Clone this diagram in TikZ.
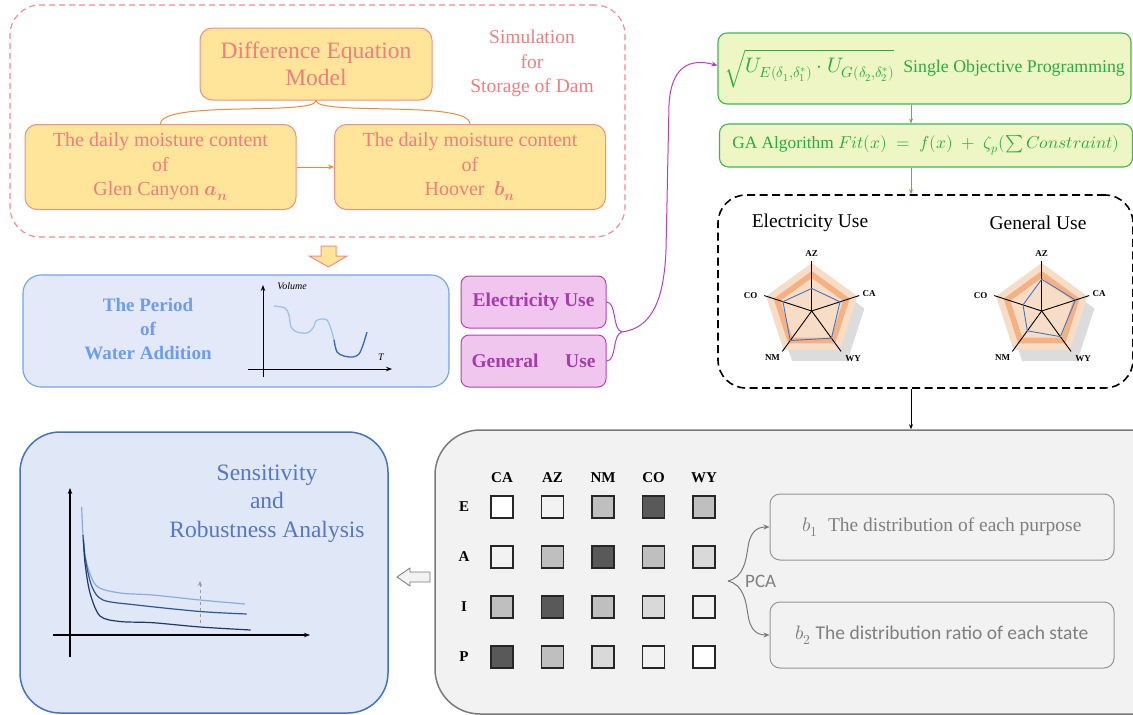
\documentclass[tikz,border=0pt]{standalone}
\usepackage{fontspec}
\usepackage{unicode-math}
\setmainfont{Liberation Serif}
\setmathfont{Latin Modern Math}
\newfontfamily\calibri{Carlito}
\usetikzlibrary{arrows.meta,positioning}

\definecolor{simred}{HTML}{F4858C}
\definecolor{ortxt}{HTML}{EF7E7E}
\definecolor{oredge}{HTML}{F29080}
\definecolor{orfill}{HTML}{FFE599}
\definecolor{orline}{HTML}{EE8A3C}
\definecolor{pdedge}{HTML}{6FA3F2}
\definecolor{pdfill}{HTML}{E3E9F8}
\definecolor{pdtxt}{HTML}{6C9DF0}
\definecolor{pdlight}{HTML}{9DC3E6}
\definecolor{pddark}{HTML}{3A66C0}
\definecolor{puedge}{HTML}{B541B5}
\definecolor{pufill}{HTML}{F0C6EE}
\definecolor{putxt}{HTML}{A63CAA}
\definecolor{gredge}{HTML}{3CB94C}
\definecolor{grfill}{HTML}{EEF6C6}
\definecolor{grtxt}{HTML}{27AE3C}
\definecolor{grline}{HTML}{70AD47}
\definecolor{snedge}{HTML}{4472C4}
\definecolor{snfill}{HTML}{E0E7F6}
\definecolor{sntxt}{HTML}{5677C4}
\definecolor{snlight}{HTML}{8FAADC}
\definecolor{snmid}{HTML}{2F5597}
\definecolor{sndark}{HTML}{203864}
\definecolor{gyfill}{HTML}{F2F2F2}
\definecolor{gyedge}{HTML}{7A7A7A}
\definecolor{gytxt}{HTML}{7F7F7F}
\definecolor{rdout}{HTML}{F8DDC6}
\definecolor{rdband}{HTML}{F4B183}
\definecolor{rdshadow}{HTML}{DCDCDC}
\definecolor{rdblue}{HTML}{4472C4}
\definecolor{shA}{HTML}{FFFFFF}
\definecolor{shB}{HTML}{F2F2F2}
\definecolor{shC}{HTML}{D9D9D9}
\definecolor{shD}{HTML}{BFBFBF}
\definecolor{shE}{HTML}{595959}

\tikzset{
  simframe/.style={draw=simred, dash pattern=on 6pt off 4pt, line width=1.1pt,
    rounded corners=30pt, minimum width=615pt, minimum height=232pt},
  orbox/.style={draw=oredge, fill=orfill, line width=1pt, rounded corners=12pt,
    text=ortxt, align=center, inner sep=0pt, minimum width=271pt, minimum height=85pt,
    font=\rmfamily\fontsize{20}{24.5}\selectfont},
  simtext/.style={text=ortxt, align=center, font=\rmfamily\fontsize{19.5}{24.5}\selectfont},
  orline/.style={draw=orline, line width=1pt},
  orarrow/.style={orline, -{Stealth[length=6pt,width=5pt]}},
  pdbox/.style={draw=pdedge, fill=pdfill, line width=1.1pt, rounded corners=18pt,
    minimum width=426pt, minimum height=112pt},
  pdtext/.style={text=pdtxt, align=center, font=\rmfamily\bfseries\fontsize{19}{24}\selectfont},
  pubox/.style={draw=puedge, fill=pufill, line width=1pt, rounded corners=8pt,
    minimum width=145pt, minimum height=52pt, text=putxt, inner sep=0pt,
    font=\rmfamily\bfseries\fontsize{19.5}{22}\selectfont},
  puline/.style={draw=puedge, line width=1pt},
  grbox/.style={draw=gredge, fill=grfill, line width=1.1pt, rounded corners=9pt,
    minimum width=413pt, text=grtxt, inner sep=0pt, font=\rmfamily\fontsize{17.8}{22}\selectfont},
  grarrow/.style={draw=grline, line width=1pt, -{Stealth[length=5pt,width=4pt]}},
  usebox/.style={draw=black, dash pattern=on 8pt off 4.5pt, line width=1.6pt,
    rounded corners=28pt, minimum width=415pt, minimum height=193pt},
  usetitle/.style={font=\rmfamily\fontsize{19.5}{22}\selectfont},
  rdaxis/.style={draw=black, line width=0.9pt},
  rdvalue/.style={draw=rdblue, line width=0.9pt},
  rdlabel/.style={font=\rmfamily\bfseries\fontsize{9}{10}\selectfont, inner sep=0pt},
  blkarrow/.style={draw=black, line width=0.9pt, -{Stealth[length=5pt,width=4pt]}},
  gybox/.style={draw=gyedge, fill=gyfill, line width=1.5pt, rounded corners=45pt,
    minimum width=750pt, minimum height=284pt},
  cell/.style={draw=black!85, line width=1.3pt, minimum size=22pt, inner sep=0pt},
  collab/.style={font=\rmfamily\bfseries\fontsize{15}{17}\selectfont},
  pcbox/.style={draw=gyedge!80, fill=gyfill, line width=1pt, rounded corners=10pt,
    minimum width=344pt, minimum height=66pt, text=gytxt, inner sep=0pt},
  gyline/.style={draw=gyedge, line width=1pt},
  gyarrow/.style={gyline, -{Stealth[length=6pt,width=5pt]}},
  snbox/.style={draw=snedge, fill=snfill, line width=1.5pt, rounded corners=40pt,
    minimum width=368pt, minimum height=281pt},
  sntext/.style={text=sntxt, align=center, font=\rmfamily\fontsize{23.5}{28.5}\selectfont},
  axis/.style={draw=black, line width=1.2pt, -{Stealth[length=6pt,width=4.5pt]}},
}

% radar chart: name, centre, AZ, CA, WY, NM, CO
\newcommand{\radarchart}[7]{%
  \begin{scope}[shift={#2},x=1pt,y=1pt]
    \begin{scope}[shift={(8,-12)}]
      \fill[rdshadow] (90:47) -- (18:47) -- (-54:47) -- (-126:47) -- (162:47) -- cycle;
    \end{scope}
    \fill[rdout] (90:48) -- (18:48) -- (-54:48) -- (-126:48) -- (162:48) -- cycle;
    \fill[rdband,even odd rule] (90:40) -- (18:40) -- (-54:40) -- (-126:40) -- (162:40) -- cycle
      (90:33) -- (18:33) -- (-54:33) -- (-126:33) -- (162:33) -- cycle;
    \foreach \a in {90,18,-54,-126,162}
      \draw[rdaxis] (0,0) -- (\a:50);
    \draw[rdvalue] (90:{#3*48}) -- (18:{#4*48}) -- (-54:{#5*48}) -- (-126:{#6*48}) -- (162:{#7*48}) -- cycle;
    \node[rdlabel] (#1-az) at (90:57) {AZ};
    \node[rdlabel] (#1-ca) at (17:60) {CA};
    \node[rdlabel] (#1-wy) at (-49:63) {WY};
    \node[rdlabel] (#1-nm) at (-130:61) {NM};
    \node[rdlabel] (#1-co) at (166:63) {CO};
  \end{scope}}

\begin{document}
\begin{tikzpicture}[x=1pt,y=-1pt]
\useasboundingbox (0,0) rectangle (1133,715);

% simulation for storage
\node[simframe] (sim) at (317.5,121) {};
\node[orbox, minimum width=232pt, minimum height=72pt, font=\rmfamily\fontsize{23.5}{27}\selectfont] (model) at (316,64) {Difference Equation\\Model};
\node[simtext] (simlab) at (532,63.5) {Simulation\\for\\Storage of Dam};
\node[orbox] (glen) at (160.5,167) {The daily moisture content\\of\\Glen Canyon $\symbfit{a_n}$};
\node[orbox] (hoover) at (470,167) {The daily moisture content\\of\\Hoover\ \ $\symbfit{b_n}$};
\draw[orarrow] (glen) -- (hoover);
\draw[orline] (model.south) .. controls (316,116) and (160.5,100) .. (glen.north);
\draw[orline] (model.south) .. controls (316,116) and (470,100) .. (hoover.north);
\filldraw[fill=orfill, draw=oredge, line width=1pt] (321,246) -- (336,246) -- (336,256) -- (347,256)
  -- (328.5,267) -- (309,256) -- (321,256) -- cycle;

% period of water addition
\node[pdbox] (period) at (236,331) {};
\node[pdtext] (pdlab) at (148,329) {The Period\\of\\Water Addition};
\draw[axis, line width=1pt] (263,377) -- (263,285);
\draw[axis, line width=1pt] (248,369) -- (392,369);
\node[font=\itshape\fontsize{10}{12}\selectfont] (vol) at (292,286) {Volume};
\node[font=\itshape\fontsize{10}{12}\selectfont] (tlab) at (381,357) {T};
\draw[pdlight, line width=1.3pt] plot[smooth] coordinates {(274,306) (285,308) (289,315) (291,327) (297,332) (307,333) (313,328) (316,321) (321,319) (327,320) (331,329) (334,340)};
\draw[pddark, line width=1.3pt] plot[smooth] coordinates {(334,340) (337,352) (344,356) (353,357) (359,354) (363,345) (367,332)};

% two uses
\node[pubox] (elec) at (533.5,302) {Electricity Use};
\node[pubox] (general) at (533.5,361) {\makebox[124pt]{General\hfill Use}};
\coordinate (ptip) at (622,332);
\draw[puline] (elec.east) .. controls (617,302) and (612,330) .. (ptip);
\draw[puline] (general.east) .. controls (617,361) and (612,334) .. (ptip);

% objective programming
\node[grbox, minimum height=71pt] (obj) at (924.5,68.5) {{\fontsize{21}{24}\selectfont$\sqrt{U_{E(\delta_1,\delta_1^*)}\cdot U_{G(\delta_2,\delta_2^*)}}$}\ \ Single Objective Programming};
\node[grbox, minimum height=43pt, font=\rmfamily\fontsize{17.3}{22}\selectfont] (ga) at (926,145.5) {GA Algorithm $Fit(x)\;=\;f(x)\;+\;\zeta_p(\sum Constraint)$};
\draw[puline, -{Stealth[length=6pt,width=5pt]}] (ptip) .. controls (652,328) and (664,300) .. (666,250)
  -- (669,105) .. controls (671,66) and (690,58) .. ([yshift=3pt]obj.west);
\coordinate (flow) at (911,0);
\draw[grarrow] (obj.south -| flow) -- (ga.north -| flow);

% radar charts
\node[usebox] (uses) at (925.5,291.5) {};
\draw[grarrow] (ga.south -| flow) -- (uses.north -| flow);
\node[usetitle] (eltitle) at (810,223) {Electricity Use};
\node[usetitle] (gntitle) at (1038,223) {General Use};
\radarchart{er}{(811.7,311)}{.47}{.62}{.70}{.76}{.63}
\radarchart{gr}{(1041.7,311)}{.66}{.74}{.66}{.51}{.41}

% pca
\node[gybox] (pcabox) at (810,572) {};
\draw[blkarrow] (uses.south -| flow) -- (pcabox.north -| flow);
\foreach \st [count=\c] in {CA,AZ,NM,CO,WY}
  \node[collab] (col-\c) at ({502+50.5*(\c-1)},478) {\st};
\foreach \lab [count=\r] in {E,A,I,P}
  \node[collab] (row-\r) at (464,{507+50*(\r-1)}) {\lab};
\foreach \row [count=\r] in {{shA,shB,shD,shE,shD},{shB,shD,shE,shD,shC},{shD,shE,shD,shC,shB},{shE,shD,shC,shB,shA}}
  \foreach \shade [count=\c] in \row
    \node[cell, fill=\shade] (cell-\r-\c) at ({502+50.5*(\c-1)},{507+50*(\r-1)}) {};
\node[pcbox, font=\rmfamily\fontsize{19.5}{22}\selectfont] (bone) at (942,527) {$b_1$\ \ The distribution of each purpose};
\node[pcbox, font=\calibri\fontsize{19.5}{22}\selectfont] (btwo) at (942,635) {$b_2$ The distribution ratio of each state};
\coordinate (ctip) at (728,581);
\node[anchor=west, text=gytxt, font=\calibri\fontsize{19}{22}\selectfont, inner sep=0pt] (pcalab) at (745,581) {PCA};
\draw[gyarrow] (ctip) .. controls (744,577) and (746,560) .. (748,547) .. controls (750,533) and (756,527) .. (bone.west);
\draw[gyarrow] (ctip) .. controls (744,585) and (746,602) .. (748,615) .. controls (750,629) and (756,635) .. (btwo.west);
\filldraw[fill=gyfill, draw=gyedge, line width=0.8pt] (430,572) -- (410,572) -- (410,568) -- (397,577)
  -- (410,586) -- (410,582) -- (430,582) -- cycle;

% sensitivity
\node[snbox] (sens) at (204,572.5) {};
\node[sntext] (snlab) at (267,503.5) {Sensitivity\\and\\Robustness Analysis};
\draw[axis] (70,657) -- (70,488);
\draw[axis] (53,635) -- (310,635);
\draw[snlight, line width=1.2pt] plot[smooth] coordinates {(81.7,507) (83,535) (86.7,563) (96.7,586) (120,593) (153,595) (200,600) (245,604)};
\draw[snmid, line width=1.2pt] plot[smooth] coordinates {(83,535) (85,557) (91.7,586) (103,600) (136.7,605) (200,611.5) (246.7,614)};
\draw[sndark, line width=1.2pt] plot[smooth] coordinates {(83.5,540) (85,563) (90,593) (100,616) (120,621.5) (153,622.7) (200,627) (250.7,630)};
\draw[gray!80, dashed, line width=1pt, -{Stealth[length=5pt,width=4pt]}] (200,623) -- (200,581);
\end{tikzpicture}
\end{document}
